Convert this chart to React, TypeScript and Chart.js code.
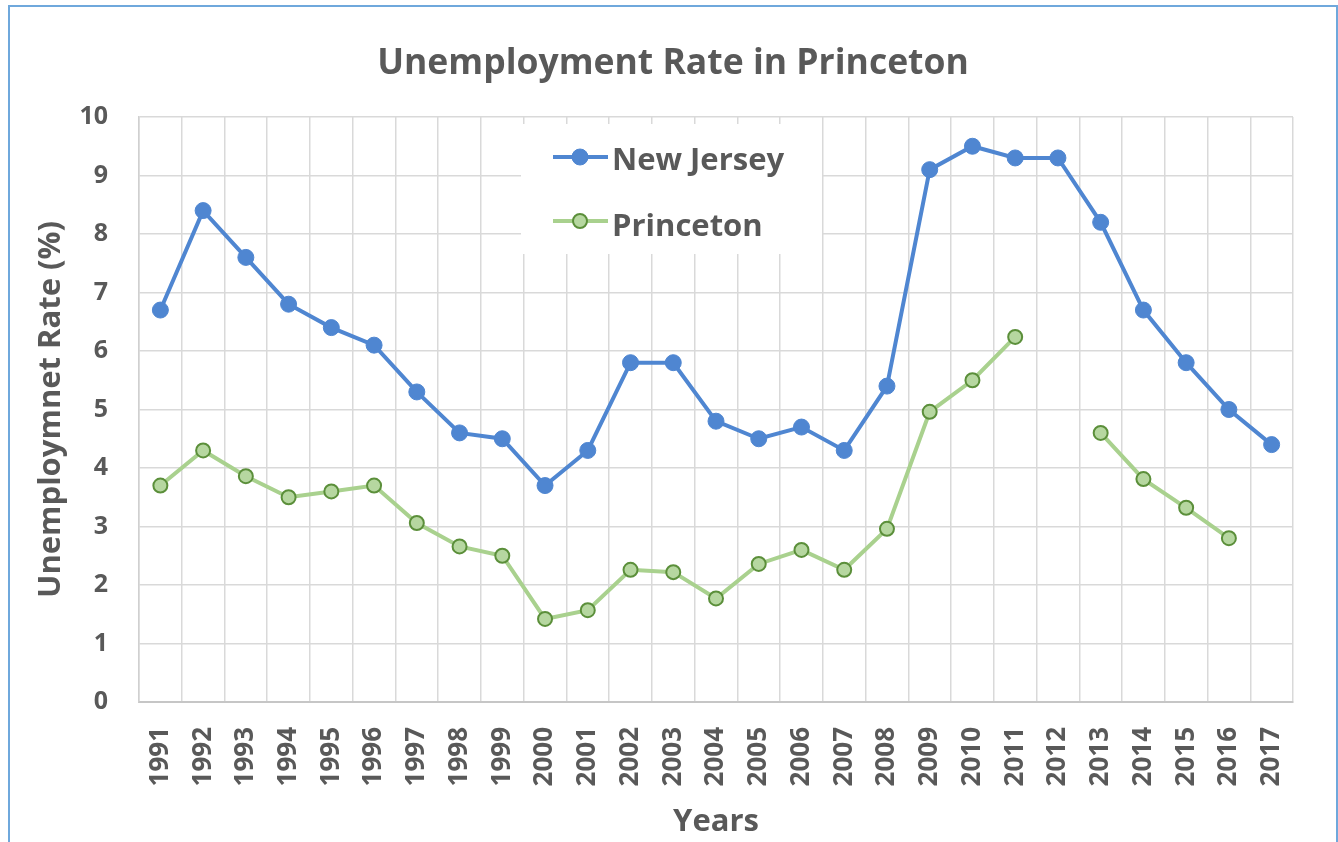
import React, { useEffect, useRef } from "react";
import { Chart, registerables } from "chart.js";

Chart.register(...registerables);

const years = [
  "1991", "1992", "1993", "1994", "1995", "1996", "1997", "1998", "1999",
  "2000", "2001", "2002", "2003", "2004", "2005", "2006", "2007", "2008",
  "2009", "2010", "2011", "2012", "2013", "2014", "2015", "2016", "2017",
];

const newJersey = [
  6.7, 8.4, 7.6, 6.8, 6.4, 6.1, 5.3, 4.6, 4.5,
  3.7, 4.3, 5.8, 5.8, 4.8, 4.5, 4.7, 4.3, 5.4,
  9.1, 9.5, 9.3, 9.3, 8.2, 6.7, 5.8, 5.0, 4.4,
];

const princeton: (number | null)[] = [
  3.7, 4.3, 3.86, 3.5, 3.6, 3.7, 3.06, 2.66, 2.5,
  1.42, 1.57, 2.26, 2.22, 1.77, 2.36, 2.6, 2.26, 2.96,
  4.96, 5.5, 6.24, null, 4.6, 3.81, 3.32, 2.8, null,
];

const yMin = 0;
const yMax = 10;
const yStep = 1;

const chartTitle = "Unemployment Rate in Princeton";
const xTitle = "Years";
const yTitle = "Unemploymnet Rate (%)";

const FONT = "'Open Sans', 'Noto Sans', sans-serif";
const TEXT = "#595959";

const insideLegend = {
  id: "insideLegend",
  beforeDatasetsDraw(chart: any) {
    const ctx = chart.ctx;
    const a = chart.chartArea;
    const bx = a.left + 382;
    const by = a.top + 7;
    ctx.save();
    ctx.fillStyle = "#ffffff";
    ctx.fillRect(bx, by, 301, 130);
    const markerY = [33, 97];
    const textY = [46, 112];
    chart.data.datasets.forEach((ds: any, i: number) => {
      const my = by + markerY[i];
      ctx.strokeStyle = ds.borderColor;
      ctx.lineWidth = ds.borderWidth;
      ctx.beginPath();
      ctx.moveTo(bx + 32, my);
      ctx.lineTo(bx + 87, my);
      ctx.stroke();
      ctx.beginPath();
      ctx.arc(bx + 59, my, ds.pointRadius, 0, Math.PI * 2);
      ctx.fillStyle = ds.pointBackgroundColor;
      ctx.fill();
      ctx.lineWidth = ds.pointBorderWidth;
      ctx.strokeStyle = ds.pointBorderColor;
      ctx.stroke();
      ctx.fillStyle = TEXT;
      ctx.font = `bold 31px ${FONT}`;
      ctx.textAlign = "left";
      ctx.textBaseline = "alphabetic";
      ctx.fillText(ds.label, bx + 91, by + textY[i]);
    });
    ctx.restore();
  },
};

export default function App() {
  const ref = useRef<HTMLCanvasElement>(null);

  useEffect(() => {
    if (!ref.current) return;
    Chart.defaults.font.family = FONT;
    const chart = new Chart(ref.current, {
      type: "line",
      data: {
        labels: years,
        datasets: [
          {
            label: "New Jersey",
            data: newJersey,
            borderColor: "#4F86D1",
            backgroundColor: "#4F86D1",
            borderWidth: 4,
            pointRadius: 8,
            pointBackgroundColor: "#4F86D1",
            pointBorderColor: "#4F86D1",
            pointBorderWidth: 1,
            tension: 0,
          },
          {
            label: "Princeton",
            data: princeton,
            borderColor: "#A9D18E",
            backgroundColor: "#B6D7A0",
            borderWidth: 4,
            pointRadius: 7,
            pointBackgroundColor: "#B6D7A0",
            pointBorderColor: "#5B8F3A",
            pointBorderWidth: 2,
            spanGaps: false,
            tension: 0,
          },
        ],
      },
      options: {
        responsive: false,
        animation: false,
        events: [],
        layout: { padding: 0 },
        plugins: {
          legend: { display: false },
          tooltip: { enabled: false },
          title: {
            display: true,
            text: chartTitle,
            color: TEXT,
            font: { size: 35.5, weight: "bold", family: FONT, lineHeight: 1.2 },
            padding: { top: 35.7, bottom: 31.7 },
          },
        },
        scales: {
          x: {
            type: "category",
            offset: true,
            grid: { offset: true, color: "#D9D9D9", lineWidth: 1.5, drawTicks: false },
            border: { color: "#C6C6C6", width: 2 },
            ticks: {
              autoSkip: false,
              maxRotation: 90,
              minRotation: 90,
              padding: 25,
              color: TEXT,
              font: { size: 26, weight: "bold", family: FONT },
            },
            title: {
              display: true,
              text: xTitle,
              color: TEXT,
              font: { size: 31, weight: "bold", family: FONT, lineHeight: 1.2 },
              padding: { top: 0, bottom: 1 },
            },
            afterFit: (s: any) => {
              s.height = 140;
            },
          },
          y: {
            min: yMin,
            max: yMax,
            grid: { color: "#D9D9D9", lineWidth: 1.5, drawTicks: false },
            border: { color: "#D0D0D0", width: 1.5 },
            ticks: {
              stepSize: yStep,
              padding: 31,
              color: TEXT,
              font: { size: 25, weight: "bold", family: FONT },
            },
            title: {
              display: true,
              text: yTitle,
              color: TEXT,
              font: { size: 31, weight: "bold", family: FONT, lineHeight: 1.2 },
              padding: { top: 23, bottom: 0 },
            },
            afterFit: (s: any) => {
              s.width = 129;
            },
          },
          yRight: {
            position: "right",
            display: true,
            grid: { display: false, drawOnChartArea: false },
            border: { display: false },
            ticks: { display: false },
            afterFit: (s: any) => {
              s.width = 43;
            },
          },
        },
      },
      plugins: [insideLegend],
    } as any);
    return () => chart.destroy();
  }, []);

  return (
    <div
      style={{
        position: "fixed",
        left: 8,
        top: 5,
        width: 1330,
        height: 850,
        border: "2px solid #6FA8DC",
        boxSizing: "border-box",
        background: "#ffffff",
      }}
    >
      <canvas
        ref={ref}
        width={1326}
        height={835}
        style={{ position: "absolute", left: 0, top: 0, display: "block" }}
      />
    </div>
  );
}
